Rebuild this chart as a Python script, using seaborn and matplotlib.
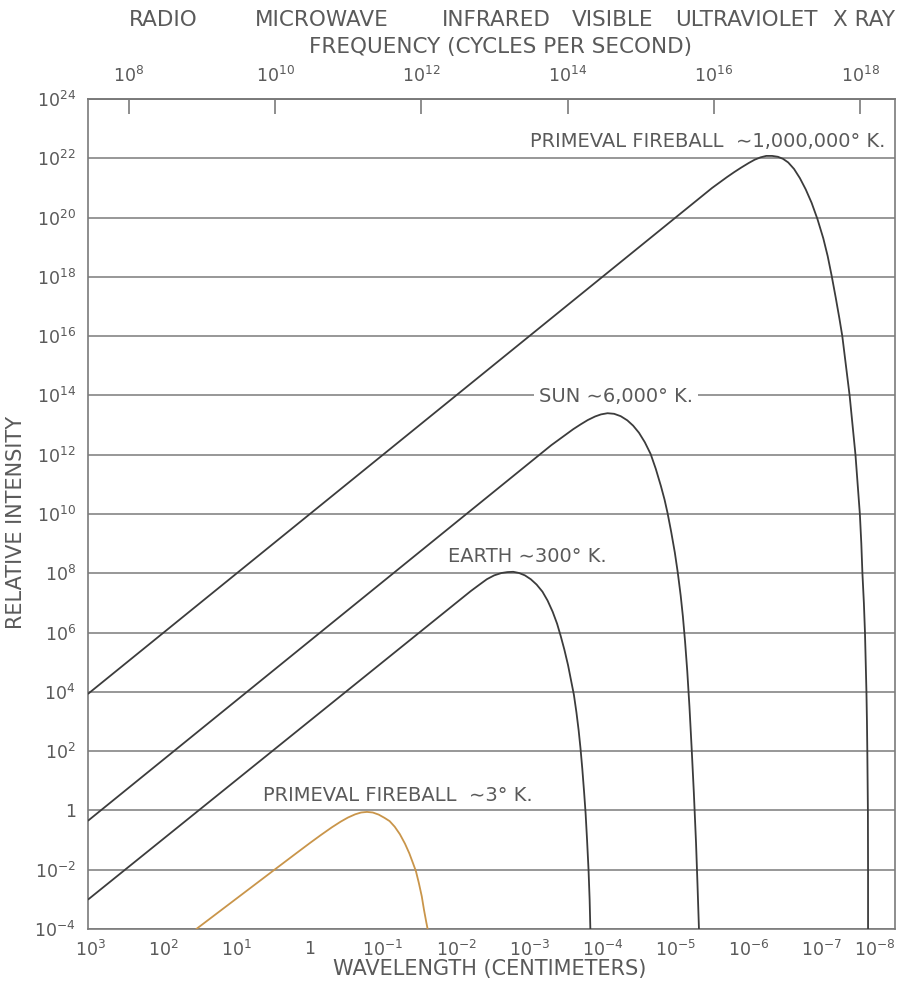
import numpy as np
import matplotlib
matplotlib.use("Agg")
import matplotlib.pyplot as plt
from matplotlib.ticker import NullLocator
import seaborn as sns

# ---------------- data (log10 wavelength in cm, log10 relative intensity) ----------------
hot_fireball_loglam = [3.03, -5.5, -5.6, -5.7, -5.8, -5.9, -6.0, -6.08, -6.16, -6.24, -6.32,
                       -6.40, -6.47, -6.54, -6.62, -6.70, -6.78, -6.86, -6.94, -7.02, -7.08,
                       -7.135, -7.19, -7.24, -7.28, -7.33, -7.38, -7.42, -7.46, -7.49, -7.52,
                       -7.54, -7.555, -7.575, -7.59, -7.60, -7.61, -7.617, -7.622, -7.63,
                       -7.632, -7.632]
hot_fireball_logI = [3.94, 21.0, 21.18, 21.36, 21.53, 21.69, 21.84, 21.95, 22.03, 22.08, 22.08,
                     22.05, 21.98, 21.86, 21.64, 21.33, 20.95, 20.5, 19.95, 19.3, 18.7,
                     18.03, 17.3, 16.6, 16.0, 15.0, 14.0, 13.0, 12.0, 11.0, 10.0,
                     9.0, 8.0, 7.0, 6.0, 5.0, 4.0, 3.0, 2.0, 0.0, -2.0, -4.0]

sun_loglam = [3.03, -3.3, -3.4, -3.5, -3.6, -3.7, -3.8, -3.9, -3.98, -4.07, -4.16, -4.25, -4.34,
              -4.42, -4.5, -4.58, -4.66, -4.73, -4.8, -4.85, -4.89, -4.94, -4.99, -5.03, -5.07,
              -5.1, -5.13, -5.16, -5.19, -5.22, -5.25, -5.28, -5.30, -5.32]
sun_logI = [-0.34, 12.32, 12.5, 12.68, 12.86, 13.02, 13.17, 13.29, 13.36, 13.4, 13.38, 13.3, 13.16,
            12.98, 12.74, 12.42, 12.02, 11.52, 10.94, 10.48, 10.04, 9.4, 8.7, 8.03, 7.25,
            6.55, 5.7, 4.7, 3.5, 2.1, 0.6, -1.1, -2.5, -4.0]

earth_loglam = [3.03, -2.2, -2.32, -2.42, -2.52, -2.62, -2.7, -2.78, -2.86, -2.94, -3.02, -3.1,
                -3.18, -3.25, -3.32, -3.38, -3.43, -3.48, -3.53, -3.57, -3.61, -3.645, -3.675,
                -3.70, -3.725, -3.75, -3.77, -3.79, -3.81, -3.825, -3.835]
earth_logI = [-3.0, 7.4, 7.62, 7.8, 7.93, 8.01, 8.04, 8.05, 8.01, 7.93, 7.8, 7.62,
              7.38, 7.08, 6.7, 6.3, 5.88, 5.42, 4.9, 4.4, 3.9, 3.3, 2.7,
              2.1, 1.4, 0.6, -0.1, -1.0, -2.0, -3.0, -4.0]

cold_fireball_loglam = [1.553, 0.484, 0.2, 0.0, -0.15, -0.3, -0.42, -0.52, -0.62, -0.7, -0.78,
                        -0.86, -0.94, -1.02, -1.09, -1.16, -1.23, -1.3, -1.36, -1.41, -1.45,
                        -1.49, -1.53, -1.56, -1.59, -1.61]
cold_fireball_logI = [-4.0, -2.0, -1.47, -1.1, -0.83, -0.57, -0.38, -0.24, -0.13, -0.07, -0.05,
                      -0.07, -0.14, -0.25, -0.36, -0.55, -0.8, -1.12, -1.45, -1.78, -2.05,
                      -2.45, -2.9, -3.35, -3.75, -4.0]

wavelength_tick_exps = [3, 2, 1, 0, -1, -2, -3, -4, -5, -6, -7, -8]
intensity_tick_exps = list(range(-4, 25, 2))
frequency_tick_exps = [8, 10, 12, 14, 16, 18]
band_names = ["RADIO", "MICROWAVE", "INFRARED", "VISIBLE", "ULTRAVIOLET", "X RAY"]
curve_labels = ["PRIMEVAL FIREBALL  \u223c1,000,000\u00b0 K.", "SUN \u223c6,000\u00b0 K.",
                "EARTH \u223c300\u00b0 K.", "PRIMEVAL FIREBALL  \u223c3\u00b0 K."]

# ---------------- style ----------------
sns.set_theme(style="white")
plt.rcParams["font.family"] = ["DejaVu Sans"]
plt.rcParams["mathtext.default"] = "regular"

GRAY = "#7a7a7a"
TXT = "#5a5a5a"
LINE = "#3c3c3c"
ORANGE = "#c9954a"

fig = plt.figure(figsize=(9, 9.86), dpi=100)
ax = fig.add_axes([0.0981, 0.0578, 0.8963, 0.8418])
ax.set_xscale("log")
ax.set_yscale("log")

def pw(a):
    return np.power(10.0, np.asarray(a, dtype=float))

curves = [(hot_fireball_loglam, hot_fireball_logI, LINE),
          (sun_loglam, sun_logI, LINE),
          (earth_loglam, earth_logI, LINE),
          (cold_fireball_loglam, cold_fireball_logI, ORANGE)]
for lx, ly, col in curves:
    sns.lineplot(x=pw(lx), y=pw(ly), sort=False, estimator=None, color=col, lw=1.3, ax=ax,
                 zorder=3)

ax.set_xlim(10 ** 3.03, 1e-8)
ax.set_ylim(1e-4, 1e24)

# grid & spines
ax.yaxis.grid(True, color=GRAY, lw=1.1, zorder=1)
ax.xaxis.grid(False)
for s in ax.spines.values():
    s.set_color(GRAY)
    s.set_linewidth(1.2)

# y ticks
ax.set_yticks(pw(intensity_tick_exps))
ylabels = ["1" if e == 0 else r"$10^{%d}$" % e for e in intensity_tick_exps]
ax.set_yticklabels(ylabels)
ax.yaxis.set_minor_locator(NullLocator())
ax.tick_params(axis="y", length=0, pad=9, labelsize=12.5, labelcolor=TXT)

# x ticks
ax.set_xticks(pw(wavelength_tick_exps))
xlabels = ["1" if e == 0 else r"$10^{%d}$" % e for e in wavelength_tick_exps]
ax.set_xticklabels(xlabels)
ax.xaxis.set_minor_locator(NullLocator())
ax.tick_params(axis="x", direction="in", length=11, width=1.2, color=GRAY, pad=8,
               labelsize=12.5, labelcolor=TXT, top=False)
ax.get_xticklabels()[-1].set_horizontalalignment("right")

# top frequency axis
C = 3e10
def lam2nu(l):
    l = np.asarray(l, dtype=float)
    with np.errstate(divide="ignore"):
        return C / np.where(l == 0, 1e-300, l)

sec = ax.secondary_xaxis("top", functions=(lam2nu, lam2nu))
sec.set_xticks(pw(frequency_tick_exps))
sec.set_xticklabels([r"$10^{%d}$" % e for e in frequency_tick_exps])
sec.xaxis.set_minor_locator(NullLocator())
sec.tick_params(direction="in", length=11, width=1.2, color=GRAY, pad=9,
                labelsize=12.5, labelcolor=TXT)
sec.spines["top"].set_color(GRAY)
sec.spines["top"].set_linewidth(1.2)

# axis labels
ax.set_xlabel("WAVELENGTH (CENTIMETERS)", fontsize=15, color=TXT)
ax.xaxis.set_label_coords(0.498, -0.036)
ax.set_ylabel("RELATIVE INTENSITY", fontsize=15, color=TXT)
ax.yaxis.set_label_coords(-0.077, 0.49)

fig.text(0.556, 0.952, "FREQUENCY (CYCLES PER SECOND)", fontsize=15.5, color=TXT,
         ha="center", va="center")

band_x = [0.181, 0.358, 0.551, 0.681, 0.829, 0.960]
for name, bx in zip(band_names, band_x):
    fig.text(bx, 0.9797, name, fontsize=15.5, color=TXT, ha="center", va="center")

# curve labels
ax.text(0.9876, 0.949, curve_labels[0], transform=ax.transAxes, fontsize=14, color=TXT,
        ha="right", va="center", zorder=4)
ax.text(0.654, 0.641, curve_labels[1], transform=ax.transAxes, fontsize=14, color=TXT,
        ha="center", va="center", zorder=4,
        bbox=dict(boxstyle="square,pad=0.25", fc="white", ec="none"))
ax.text(0.5445, 0.4494, curve_labels[2], transform=ax.transAxes, fontsize=14, color=TXT,
        ha="center", va="center", zorder=4)
ax.text(0.3836, 0.1614, curve_labels[3], transform=ax.transAxes, fontsize=14, color=TXT,
        ha="center", va="center", zorder=4)

fig.savefig("out.png", dpi=100, facecolor="white")
